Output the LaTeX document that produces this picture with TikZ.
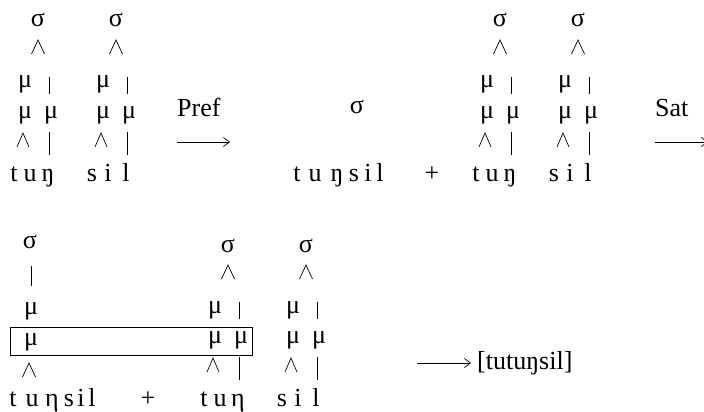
\documentclass[tikz,border=0pt]{standalone}
\usepackage{fontspec}
\setmainfont{Liberation Serif}
\usetikzlibrary{arrows.meta}

\begin{document}
\begin{tikzpicture}[x=1pt, y=-1pt,
		seg/.style={inner sep=0pt, anchor=base, font=\fontsize{26}{30}\selectfont},
		branch/.style={line width=.7pt},
		rule/.style={line width=.7pt, -{Straight Barb[length=6pt,width=9pt]}}]
	\useasboundingbox (0,0) rectangle (704,412);
	
	% x shift / y shift / name / three segments
	\foreach \dx/\dy/\n/\a/\b/\c in {0/0/A/t/u/ŋ, 78/0/B/s/i/l, 462/0/C/t/u/ŋ,
		540/0/D/s/i/l, 190/225/E/t/u/η, 268/225/F/s/i/l}{
		\begin{scope}[shift={(\dx,\dy)}]
			\node[seg] (sig\n) at (38,27) {σ};
			\draw[branch] (31.5,54) -- (38,40) -- (44.5,54);
			\node[seg] (mua\n) at (25,88) {μ};
			\draw[branch] (49,77) -- (49,94);
			\node[seg] (mub\n) at (25,118) {μ};
			\node[seg] (muc\n) at (51,118) {μ};
			\draw[branch] (17,147) -- (23,133) -- (29,147);
			\draw[branch] (49,132) -- (49,155);
			\node[seg] (sa\n) at (14,181) {\a};
			\node[seg] (sb\n) at (30,181) {\b};
			\node[seg] (sc\n) at (48,181) {\c};
		\end{scope}
	}
	
	\node[seg] (sigP) at (357,113) {σ};
	\foreach \x/\s [count=\i] in {297/t, 315/u, 337/ŋ, 354/s, 368/i, 380/l, 432/+}
		\node[seg] (p\i) at (\x,181) {\s};
	
	\node[seg] (sigL) at (30,248) {σ};
	\draw[branch] (31,266) -- (31,286);
	\node[seg] (muL) at (31,314) {μ};
	\node[seg] (muM) at (31,345) {μ};
	\draw[branch] (22.5,377) -- (29,363) -- (35.5,377);
	\foreach \x/\s [count=\i] in {13/t, 32/u, 52/η, 69/s, 81/i, 92/l, 148/+}
		\node[seg] (q\i) at (\x,406) {\s};
	\draw[line width=.9pt] (10,327) rectangle (252,355);
	
	\node[seg, anchor=base west] (pref) at (177,116) {Pref};
	\coordinate (pa) at (177,142);
	\coordinate (pb) at (230,142);
	\draw[rule] (pa) -- (pb);
	
	\node[seg, anchor=base west] (sat) at (655,116) {Sat};
	\coordinate (sa) at (655,142);
	\coordinate (sb) at (708,142);
	\draw[rule] (sa) -- (sb);
	
	\coordinate (ra) at (417,363);
	\coordinate (rb) at (471,363);
	\node[seg, anchor=base west] (out) at (477,369) {[tutuŋsil]};
	\draw[rule] (ra) -- (rb);
\end{tikzpicture}
\end{document}
